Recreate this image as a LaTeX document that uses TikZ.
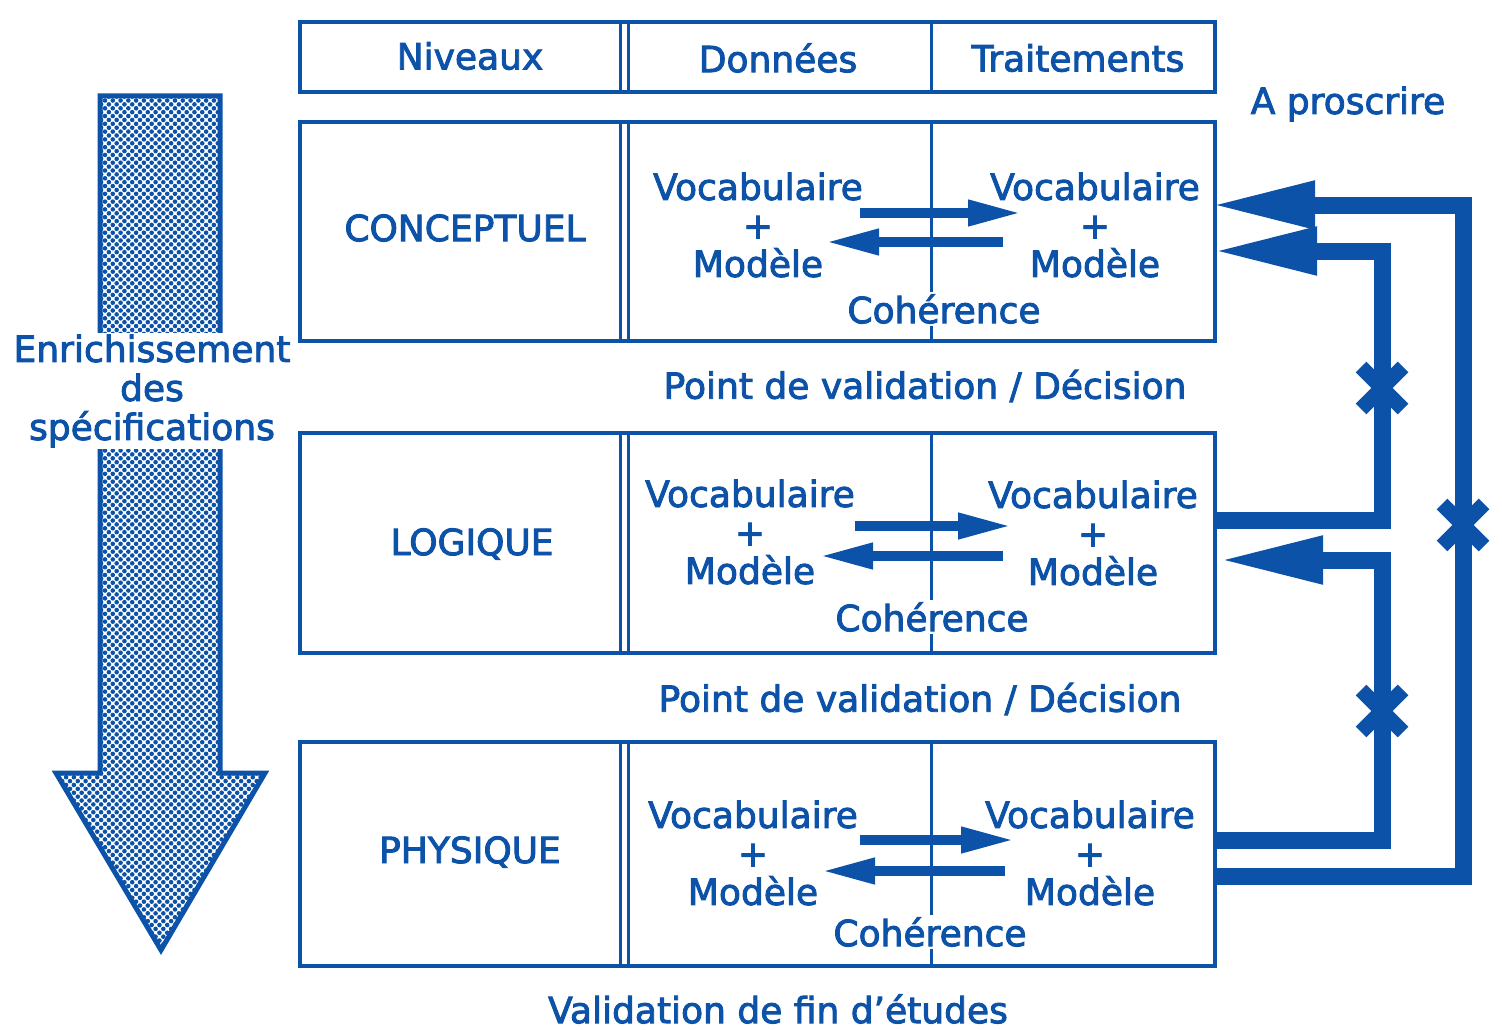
\documentclass[tikz,border=0pt]{standalone}
\usepackage{fontspec}
\setmainfont{DejaVu Sans}[FakeBold=2.5]
\usetikzlibrary{arrows.meta,patterns.meta}
\definecolor{bleu}{RGB}{12,82,168}
\begin{document}
\begin{tikzpicture}[x=1pt,y=-1pt,
  every node/.style={text=bleu, font=\fontsize{36}{38.5}\selectfont},
  box/.style={draw=bleu, line width=4pt, inner sep=0pt},
  grp/.style={align=center, inner sep=0pt},
  coh/.style={fill=white, inner sep=2pt},
  div/.style={draw=bleu, line width=3pt},
  feed/.style={draw=bleu, line width=17pt, line join=miter, -{Triangle[length=105pt,width=44pt]}},
  smallarr/.style={draw=bleu, line width=10pt, -{Triangle[length=54pt,width=24pt]}},
  xm/.style={draw=bleu, line width=15pt},
]
\path[use as bounding box] (0,0) rectangle (1502,1030);

% big left arrow
\draw[bleu, line width=5pt, line join=miter, pattern={Dots[radius=2.3pt,distance=5.5pt,angle=45]}, pattern color=bleu]
  (100,96) -- (220,96) -- (220,773) -- (265,773) -- (161,950) -- (56,773) -- (100,773) -- cycle;
\node[fill=white, align=center, inner sep=2pt, font=\fontsize{36}{39}\selectfont] (enr) at (152,391) {Enrichissement\\des\\spécifications};

% boxes
\node[box, minimum width=915pt, minimum height=70pt] (head) at (757.5,57) {};
\node[box, minimum width=915pt, minimum height=219pt] (conc) at (757.5,231.5) {};
\node[box, minimum width=915pt, minimum height=220pt] (logi) at (757.5,543) {};
\node[box, minimum width=915pt, minimum height=224pt] (phys) at (757.5,854) {};
\foreach \n in {head,conc,logi,phys} {
  \draw[div] (620,0 |- \n.north) -- (620,0 |- \n.south);
  \draw[div] (628,0 |- \n.north) -- (628,0 |- \n.south);
  \draw[div] (931,0 |- \n.north) -- (931,0 |- \n.south);
}

% header texts
\node (niv) at (470,56) {Niveaux};
\node (don) at (778,58) {Données};
\node (tra) at (1078,58) {Traitements};
\node (apr) at (1348,104) {A proscrire};

% level names
\node (lc) at (465,228) {CONCEPTUEL};
\node (ll) at (472,544) {LOGIQUE};
\node (lp) at (470,852) {PHYSIQUE};

% groups
\node[grp] (c1l) at (758,225) {Vocabulaire\\+\\Modèle};
\node[grp] (c1r) at (1095,225) {Vocabulaire\\+\\Modèle};
\node[grp] (c2l) at (750,532) {Vocabulaire\\+\\Modèle};
\node[grp] (c2r) at (1093,533) {Vocabulaire\\+\\Modèle};
\node[grp] (c3l) at (753,853) {Vocabulaire\\+\\Modèle};
\node[grp] (c3r) at (1090,853) {Vocabulaire\\+\\Modèle};

% coherence arrows
\coordinate (a1s) at (860,213); \coordinate (a1e) at (1022,213);
\coordinate (b1s) at (1003,242); \coordinate (b1e) at (825,242);
\coordinate (a2s) at (855,526); \coordinate (a2e) at (1012,526);
\coordinate (b2s) at (1003,556); \coordinate (b2e) at (819,556);
\coordinate (a3s) at (860,840); \coordinate (a3e) at (1015,840);
\coordinate (b3s) at (1005,871); \coordinate (b3e) at (821,871);
\draw[smallarr] (a1s) -- (a1e);
\draw[smallarr] (b1s) -- (b1e);
\draw[smallarr] (a2s) -- (a2e);
\draw[smallarr] (b2s) -- (b2e);
\draw[smallarr] (a3s) -- (a3e);
\draw[smallarr] (b3s) -- (b3e);

\node[coh] (h1) at (944,309) {Cohérence};
\node[coh] (h2) at (932,617) {Cohérence};
\node[coh] (h3) at (930,932) {Cohérence};

% validation texts
\node (v1) at (925,386) {Point de validation / Décision};
\node (v2) at (920,699) {Point de validation / Décision};
\node (v3) at (778,1009) {Validation de fin d’études};

% feedback connectors
\coordinate (t1) at (1210,205);
\coordinate (t2) at (1212,251);
\coordinate (t3) at (1218,560);
\draw[feed] (phys.east |- 0,876) -- (1463,876) -- (1463,205) -- (t1);
\draw[feed] (logi.east |- 0,520) -- (1382,520) -- (1382,251) -- (t2);
\draw[feed] (phys.east |- 0,840) -- (1382,840) -- (1382,560) -- (t3);

% forbidden marks
\foreach \p in {(1382,388),(1463,525),(1382,711)} {
  \draw[xm] \p ++(-21,-21) -- ++(42,42);
  \draw[xm] \p ++(-21,21) -- ++(42,-42);
}
\end{tikzpicture}
\end{document}
